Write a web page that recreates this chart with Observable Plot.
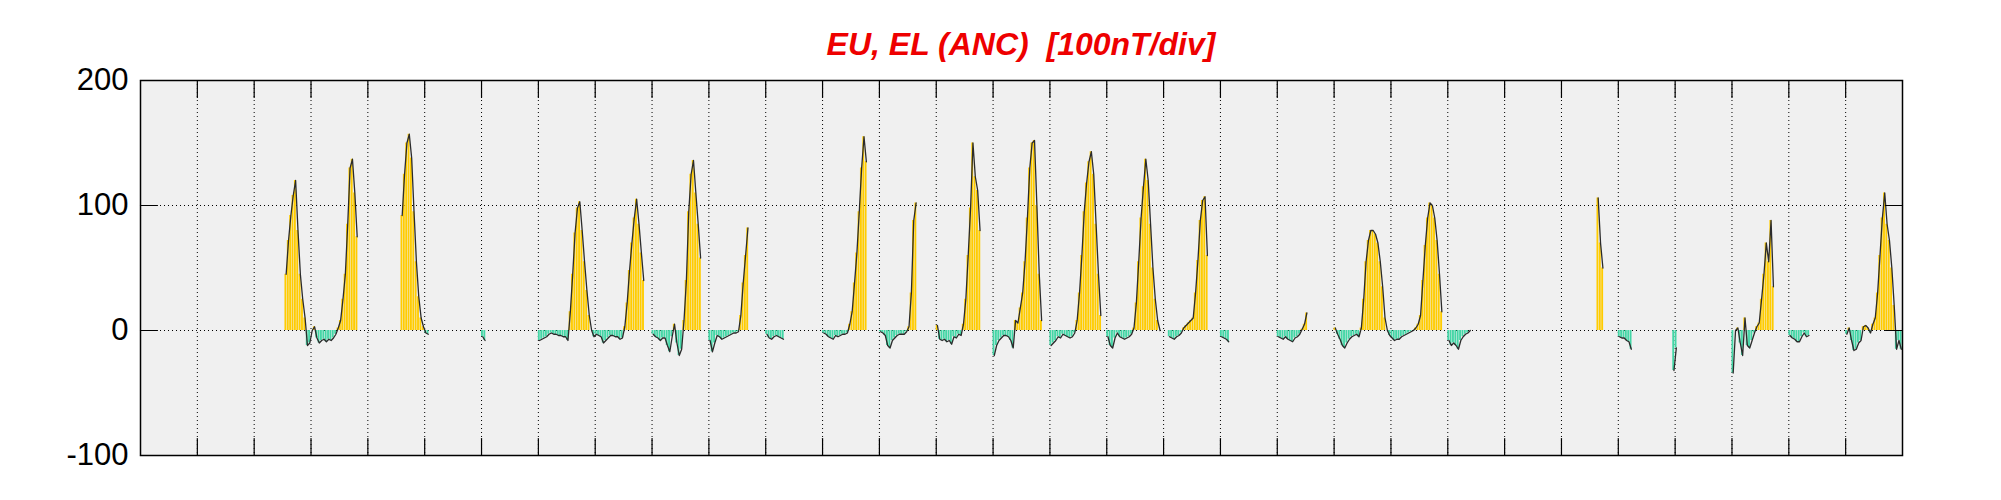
<!DOCTYPE html>
<html>
<head>
<meta charset="utf-8">
<script src="https://cdn.jsdelivr.net/npm/d3@7"></script>
<script src="https://cdn.jsdelivr.net/npm/@observablehq/plot@0.6"></script>
<style>
  html, body { margin: 0; padding: 0; background: #ffffff; }
  #title {
    width: 2001px; height: 50px; box-sizing: border-box;
    padding: 28px 99px 0 140px; text-align: center;
    font-family: "Liberation Sans", Arial, sans-serif;
    font-weight: bold; font-style: italic; font-size: 32px; line-height: 32px;
    color: #ee0000; white-space: pre; overflow: visible;
  }
  #chart svg { overflow: visible; }
</style>
</head>
<body>
<div id="title">EU, EL (ANC)  [100nT/div]</div>
<div id="chart"></div>
<script>
// Time axis in hours from the start of the month (31 days)
const monthHours = [0, 744];
const dayTicks = d3.range(1, 31).map(d => d * 24);   // day boundaries
const yTicks = [-100, 0, 100, 200];
const gridY = [0, 100];

// Hourly EU/EL values (nT), one array per continuous data segment
const segStartHour = [61, 110, 144, 168, 216, 240, 264, 288, 312, 336, 360, 384, 408, 434, 456, 480, 504, 552, 615, 624, 647, 672, 696, 720];
const segValues = [
  [45, 72, 92, 108, 120, 80, 45, 25, 10, -12, -10, 0, 3, -6, -10, -8, -7, -9, -7, -8, -6, -3, 2, 8, 25, 45, 85, 130, 137, 110, 75],
  [92, 125, 150, 157, 138, 95, 55, 27, 10, 3, -2, -3],
  [-5, -8],
  [-8, -7, -6, -5, -3, -2, -3, -3, -4, -4, -5, -5, -8, 15, 45, 78, 98, 103, 80, 55, 32, 12, 0, -5, -3, -4,
   -5, -10, -8, -6, -4, -4, -5, -5, -7, -6, 3, 22, 48, 70, 90, 105, 85, 62, 40],
  [-3, -5, -6, -8, -6, -6, -12, -17, -5, 5, -10, -20, -15, 8, 40, 95, 125, 136, 110, 85, 58],
  [-8, -17, -10, -4, -5, -7, -6, -5, -4, -3, -2, -2, -1, 12, 38, 60, 82],
  [-3, -6, -7, -5, -4, -5, -6, -7],
  [-2, -3, -5, -6, -7, -4, -5, -4, -3, -3, -2, 5, 15, 38, 62, 95, 130, 155, 135],
  [-1, -2, -4, -12, -14, -8, -6, -4, -3, -3, -3, -1, 3, 30, 88, 102],
  [4, -7, -8, -7, -9, -8, -11, -5, -6, -3, -4, 5, 25, 60, 98, 150, 123, 112, 80],
  [-20, -12, -8, -6, -4, -4, -5, -8, -14, 8, 6, 18, 30, 55, 90, 130, 150, 152, 100, 45, 8],
  [-12, -10, -8, -5, -6, -3, -4, -5, -6, -5, -2, 8, 30, 60, 95, 118, 135, 143, 125, 85, 45, 12],
  [-5, -12, -14, -6, -2, -5, -6, -7, -6, -5, -3, 2, 22, 55, 90, 115, 137, 120, 85, 50, 25, 8, 0],
  [-5, -6, -7, -5, -4, -2, 2, 4, 6, 8, 10, 30, 56, 88, 104, 107, 60],
  [-5, -6, -7, -9],
  [-5, -6, -7, -5, -7, -8, -9, -6, -5, -3, 1, 5, 14],
  [2, -3, -7, -12, -14, -10, -7, -5, -4, -3, -5, 2, 25, 55, 72, 80, 80, 77, 70, 55, 35, 10,
   0, -4, -6, -8, -7, -7, -5, -4, -3, -2, -1, 0, 2, 5, 12, 40, 68, 90, 102, 100, 90, 72, 45, 15],
  [-8, -12, -10, -12, -15, -8, -5, -3, -2, 0],
  [106, 70, 50],
  [-5, -6, -6, -8, -9, -15],
  [-32, -14],
  [-34, 0, 2, -10, -20, 10, -12, -14, -8, -2, 3, 6, 25, 45, 70, 55, 88, 35],
  [-4, -6, -7, -9, -9, -5, -2, -5, -4],
  [-3, 2, -8, -16, -15, -10, -8, 3, 4, 2, -2, 5, 10, 30, 60, 90, 110, 85, 72, 50, 20, -15, -8, -15]
];

const EU_COLOR = "#ffcc00";
const EL_COLOR = "#44d6a6";

const data = [];
segValues.forEach((vals, s) => {
  vals.forEach((v, i) => data.push({seg: s, t: segStartHour[s] + i, v}));
});

const tickShape = {draw(ctx, l) { ctx.moveTo(0, 0); ctx.lineTo(0, -l); }};
const TICK = 17;

const chart = Plot.plot({
  width: 2001,
  height: 450,
  marginTop: 30,
  marginBottom: 45,
  marginLeft: 140,
  marginRight: 99,
  style: {fontFamily: "'Liberation Sans', Arial, sans-serif", fontSize: "31px", color: "black", background: "white", overflow: "visible"},
  x: {domain: monthHours, axis: null},
  y: {domain: [-100, 200], axis: null},
  marks: [
    Plot.frame({fill: "#f0f0f0", stroke: null}),
    Plot.ruleX(dayTicks, {stroke: "black", strokeWidth: 1, strokeDasharray: "1,3"}),
    Plot.ruleY(gridY, {stroke: "black", strokeWidth: 1, strokeDasharray: "1,3"}),
    Plot.rectY(data, {
      x1: "t", x2: d => d.t + 1, y1: 0, y2: "v",
      fill: d => d.v >= 0 ? EU_COLOR : EL_COLOR,
      insetRight: 0.5
    }),
    Plot.line(data, {x: d => d.t + 0.5, y: "v", z: "seg", stroke: "#2b2b2b", strokeWidth: 1.3}),
    // inward tick marks on all four sides
    Plot.vector(yTicks, {y: d => d, frameAnchor: "left", length: TICK, rotate: 90, anchor: "start", shape: tickShape, stroke: "black", strokeWidth: 1.2}),
    Plot.vector(yTicks, {y: d => d, frameAnchor: "right", length: TICK, rotate: -90, anchor: "start", shape: tickShape, stroke: "black", strokeWidth: 1.2}),
    Plot.vector(dayTicks, {x: d => d, frameAnchor: "bottom", length: TICK, rotate: 0, anchor: "start", shape: tickShape, stroke: "black", strokeWidth: 1.2}),
    Plot.vector(dayTicks, {x: d => d, frameAnchor: "top", length: TICK, rotate: 180, anchor: "start", shape: tickShape, stroke: "black", strokeWidth: 1.2}),
    Plot.axisY(yTicks, {anchor: "left", tickSize: 0, tickPadding: 12, fontSize: 31, label: null, tickFormat: d => String(d)}),
    Plot.frame({stroke: "black", strokeWidth: 1.5})
  ]
});
document.getElementById("chart").appendChild(chart);
</script>
</body>
</html>
